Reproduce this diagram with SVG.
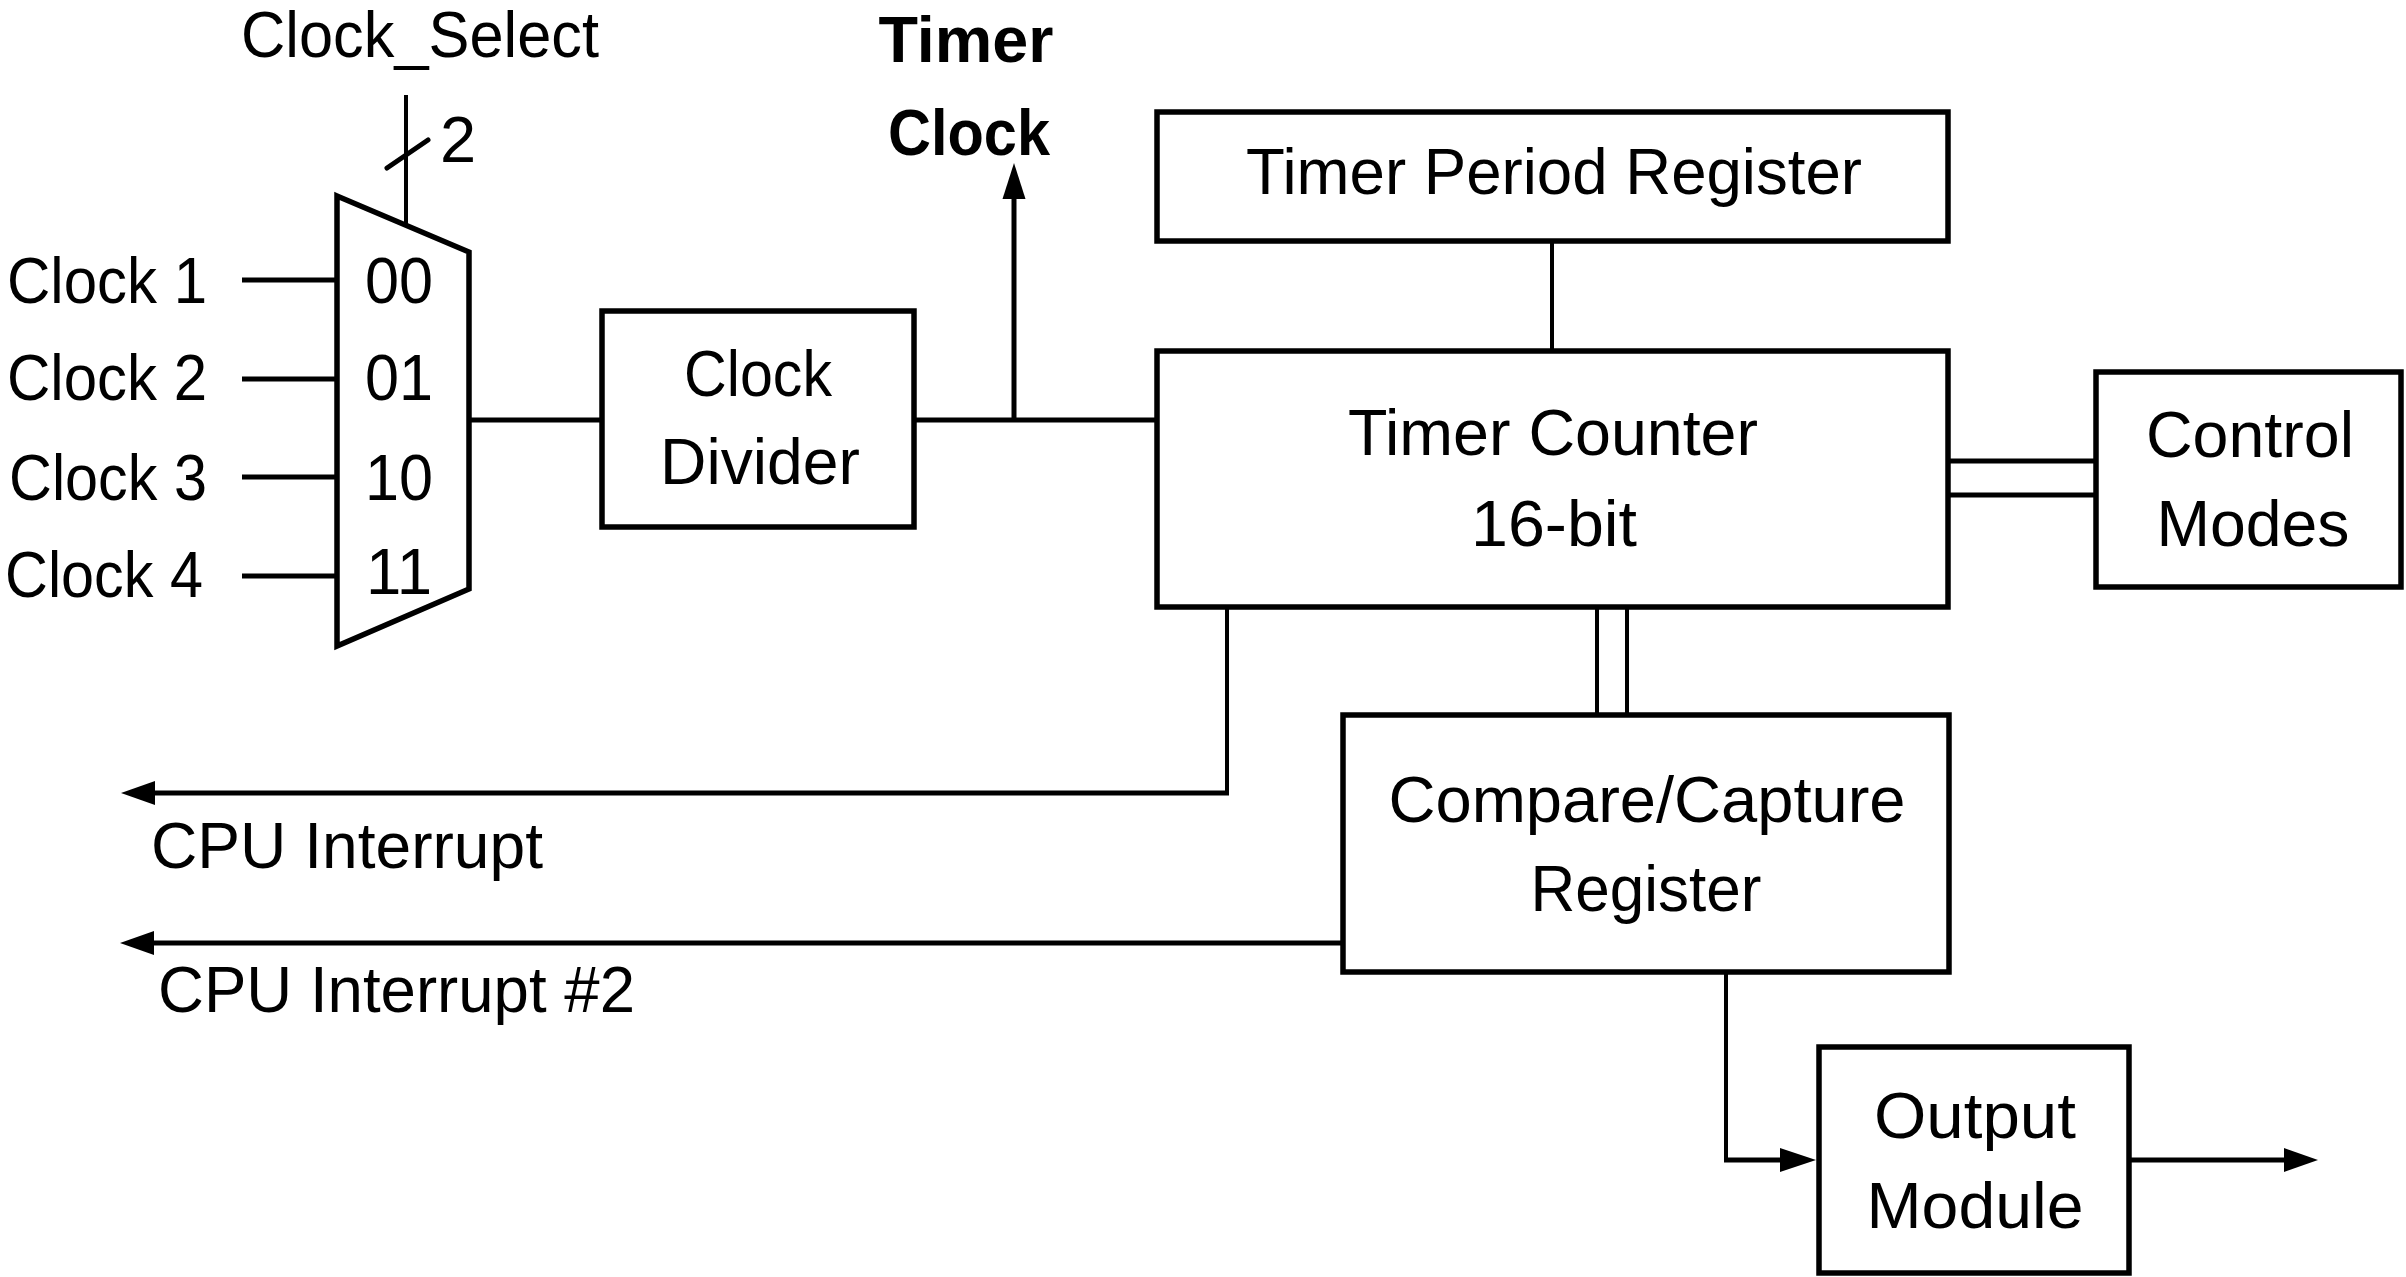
<svg xmlns="http://www.w3.org/2000/svg" width="2406" height="1277" viewBox="0 0 2406 1277">
<style>
  .box { fill: #ffffff; stroke: #000000; stroke-width: 5.5; }
  .ln { fill: none; stroke: #000000; stroke-width: 5; }
  .thin { fill: none; stroke: #000000; stroke-width: 4; }
  .ah { fill: #000000; stroke: none; }
  text { font-family: "Liberation Sans", Arial, sans-serif; font-size: 65px; fill: #000000; }
  .b { font-weight: bold; }
  .m { text-anchor: middle; }
</style>
<rect x="0" y="0" width="2406" height="1277" fill="#ffffff"/>

<g id="connectors">
  <line class="ln" x1="242" y1="280" x2="337" y2="280"/>
  <line class="ln" x1="242" y1="379" x2="337" y2="379"/>
  <line class="ln" x1="242" y1="477" x2="337" y2="477"/>
  <line class="ln" x1="242" y1="576" x2="337" y2="576"/>
  <line class="thin" x1="406" y1="95" x2="406" y2="225"/>
  <line class="ln" x1="387" y1="168" x2="428" y2="140" stroke-linecap="round"/>
  <line class="ln" x1="469" y1="420" x2="602" y2="420"/>
  <line class="ln" x1="914" y1="420" x2="1157" y2="420"/>
  <line class="ln" x1="1014" y1="420" x2="1014" y2="196"/>
  <polygon class="ah" points="1014,163 1002.5,199 1025.5,199"/>
  <line class="thin" x1="1552" y1="241" x2="1552" y2="351"/>
  <line class="ln" x1="1948" y1="461" x2="2096" y2="461"/>
  <line class="ln" x1="1948" y1="495" x2="2096" y2="495"/>
  <line class="thin" x1="1597" y1="607" x2="1597" y2="715"/>
  <line class="thin" x1="1627" y1="607" x2="1627" y2="715"/>
  <polyline class="thin" points="1227,607 1227,793"/>
  <line class="ln" x1="1229" y1="793" x2="150" y2="793"/>
  <polygon class="ah" points="121,793 155,781 155,805"/>
  <line class="ln" x1="1343" y1="943" x2="150" y2="943"/>
  <polygon class="ah" points="120,943 154,931 154,955"/>
  <polyline class="thin" points="1726,972 1726,1160 1784,1160"/>
  <line class="ln" x1="1724" y1="1160" x2="1784" y2="1160"/>
  <polygon class="ah" points="1816,1160 1780,1148 1780,1172"/>
  <line class="ln" x1="2129" y1="1160" x2="2288" y2="1160"/>
  <polygon class="ah" points="2318,1160 2284,1148 2284,1172"/>
</g>

<g id="labels">
  <text x="420" y="57" class="m" textLength="358" lengthAdjust="spacingAndGlyphs">Clock_Select</text>
  <text x="458" y="162" class="m" font-size="68">2</text>
  <text x="966" y="62" class="m b" textLength="175" lengthAdjust="spacingAndGlyphs">Timer</text>
  <text x="969" y="155" class="m b" textLength="162" lengthAdjust="spacingAndGlyphs">Clock</text>
  <text x="7" y="303" textLength="200" lengthAdjust="spacingAndGlyphs">Clock 1</text>
  <text x="7" y="400" textLength="200" lengthAdjust="spacingAndGlyphs">Clock 2</text>
  <text x="9" y="500" textLength="198" lengthAdjust="spacingAndGlyphs">Clock 3</text>
  <text x="5" y="597" textLength="198" lengthAdjust="spacingAndGlyphs">Clock 4</text>
  <text x="151" y="868" textLength="392" lengthAdjust="spacingAndGlyphs">CPU Interrupt</text>
  <text x="158" y="1012" textLength="477" lengthAdjust="spacingAndGlyphs">CPU Interrupt #2</text>
</g>

<g id="mux">
  <polygon class="box" points="337,196 469,252 469,589 337,646" stroke-linejoin="miter"/>
  <text x="399" y="303" class="m" textLength="68" lengthAdjust="spacingAndGlyphs">00</text>
  <text x="399" y="400" class="m" textLength="68" lengthAdjust="spacingAndGlyphs">01</text>
  <text x="399" y="500" class="m" textLength="68" lengthAdjust="spacingAndGlyphs">10</text>
  <text x="399" y="594" class="m" textLength="66" lengthAdjust="spacingAndGlyphs">11</text>
</g>

<g id="clock-divider">
  <rect class="box" x="602" y="311" width="312" height="216"/>
  <text x="758" y="396" class="m" textLength="148" lengthAdjust="spacingAndGlyphs">Clock</text>
  <text x="760" y="484" class="m" textLength="200" lengthAdjust="spacingAndGlyphs">Divider</text>
</g>

<g id="timer-period-register">
  <rect class="box" x="1157" y="112" width="791" height="129"/>
  <text x="1554" y="194" class="m" textLength="616" lengthAdjust="spacingAndGlyphs">Timer Period Register</text>
</g>

<g id="timer-counter">
  <rect class="box" x="1157" y="351" width="791" height="256"/>
  <text x="1553" y="455" class="m" textLength="410" lengthAdjust="spacingAndGlyphs">Timer Counter</text>
  <text x="1554" y="546" class="m" textLength="166" lengthAdjust="spacingAndGlyphs">16-bit</text>
</g>

<g id="control-modes">
  <rect class="box" x="2096" y="372" width="305" height="215"/>
  <text x="2250" y="457" class="m" textLength="208" lengthAdjust="spacingAndGlyphs">Control</text>
  <text x="2253" y="546" class="m" textLength="193" lengthAdjust="spacingAndGlyphs">Modes</text>
</g>

<g id="compare-capture-register">
  <rect class="box" x="1343" y="715" width="606" height="257"/>
  <text x="1647" y="822" class="m" textLength="517" lengthAdjust="spacingAndGlyphs">Compare/Capture</text>
  <text x="1646" y="911" class="m" textLength="231" lengthAdjust="spacingAndGlyphs">Register</text>
</g>

<g id="output-module">
  <rect class="box" x="1819" y="1047" width="310" height="226"/>
  <text x="1975" y="1138" class="m" textLength="202" lengthAdjust="spacingAndGlyphs">Output</text>
  <text x="1975" y="1228" class="m" textLength="217" lengthAdjust="spacingAndGlyphs">Module</text>
</g>
</svg>
